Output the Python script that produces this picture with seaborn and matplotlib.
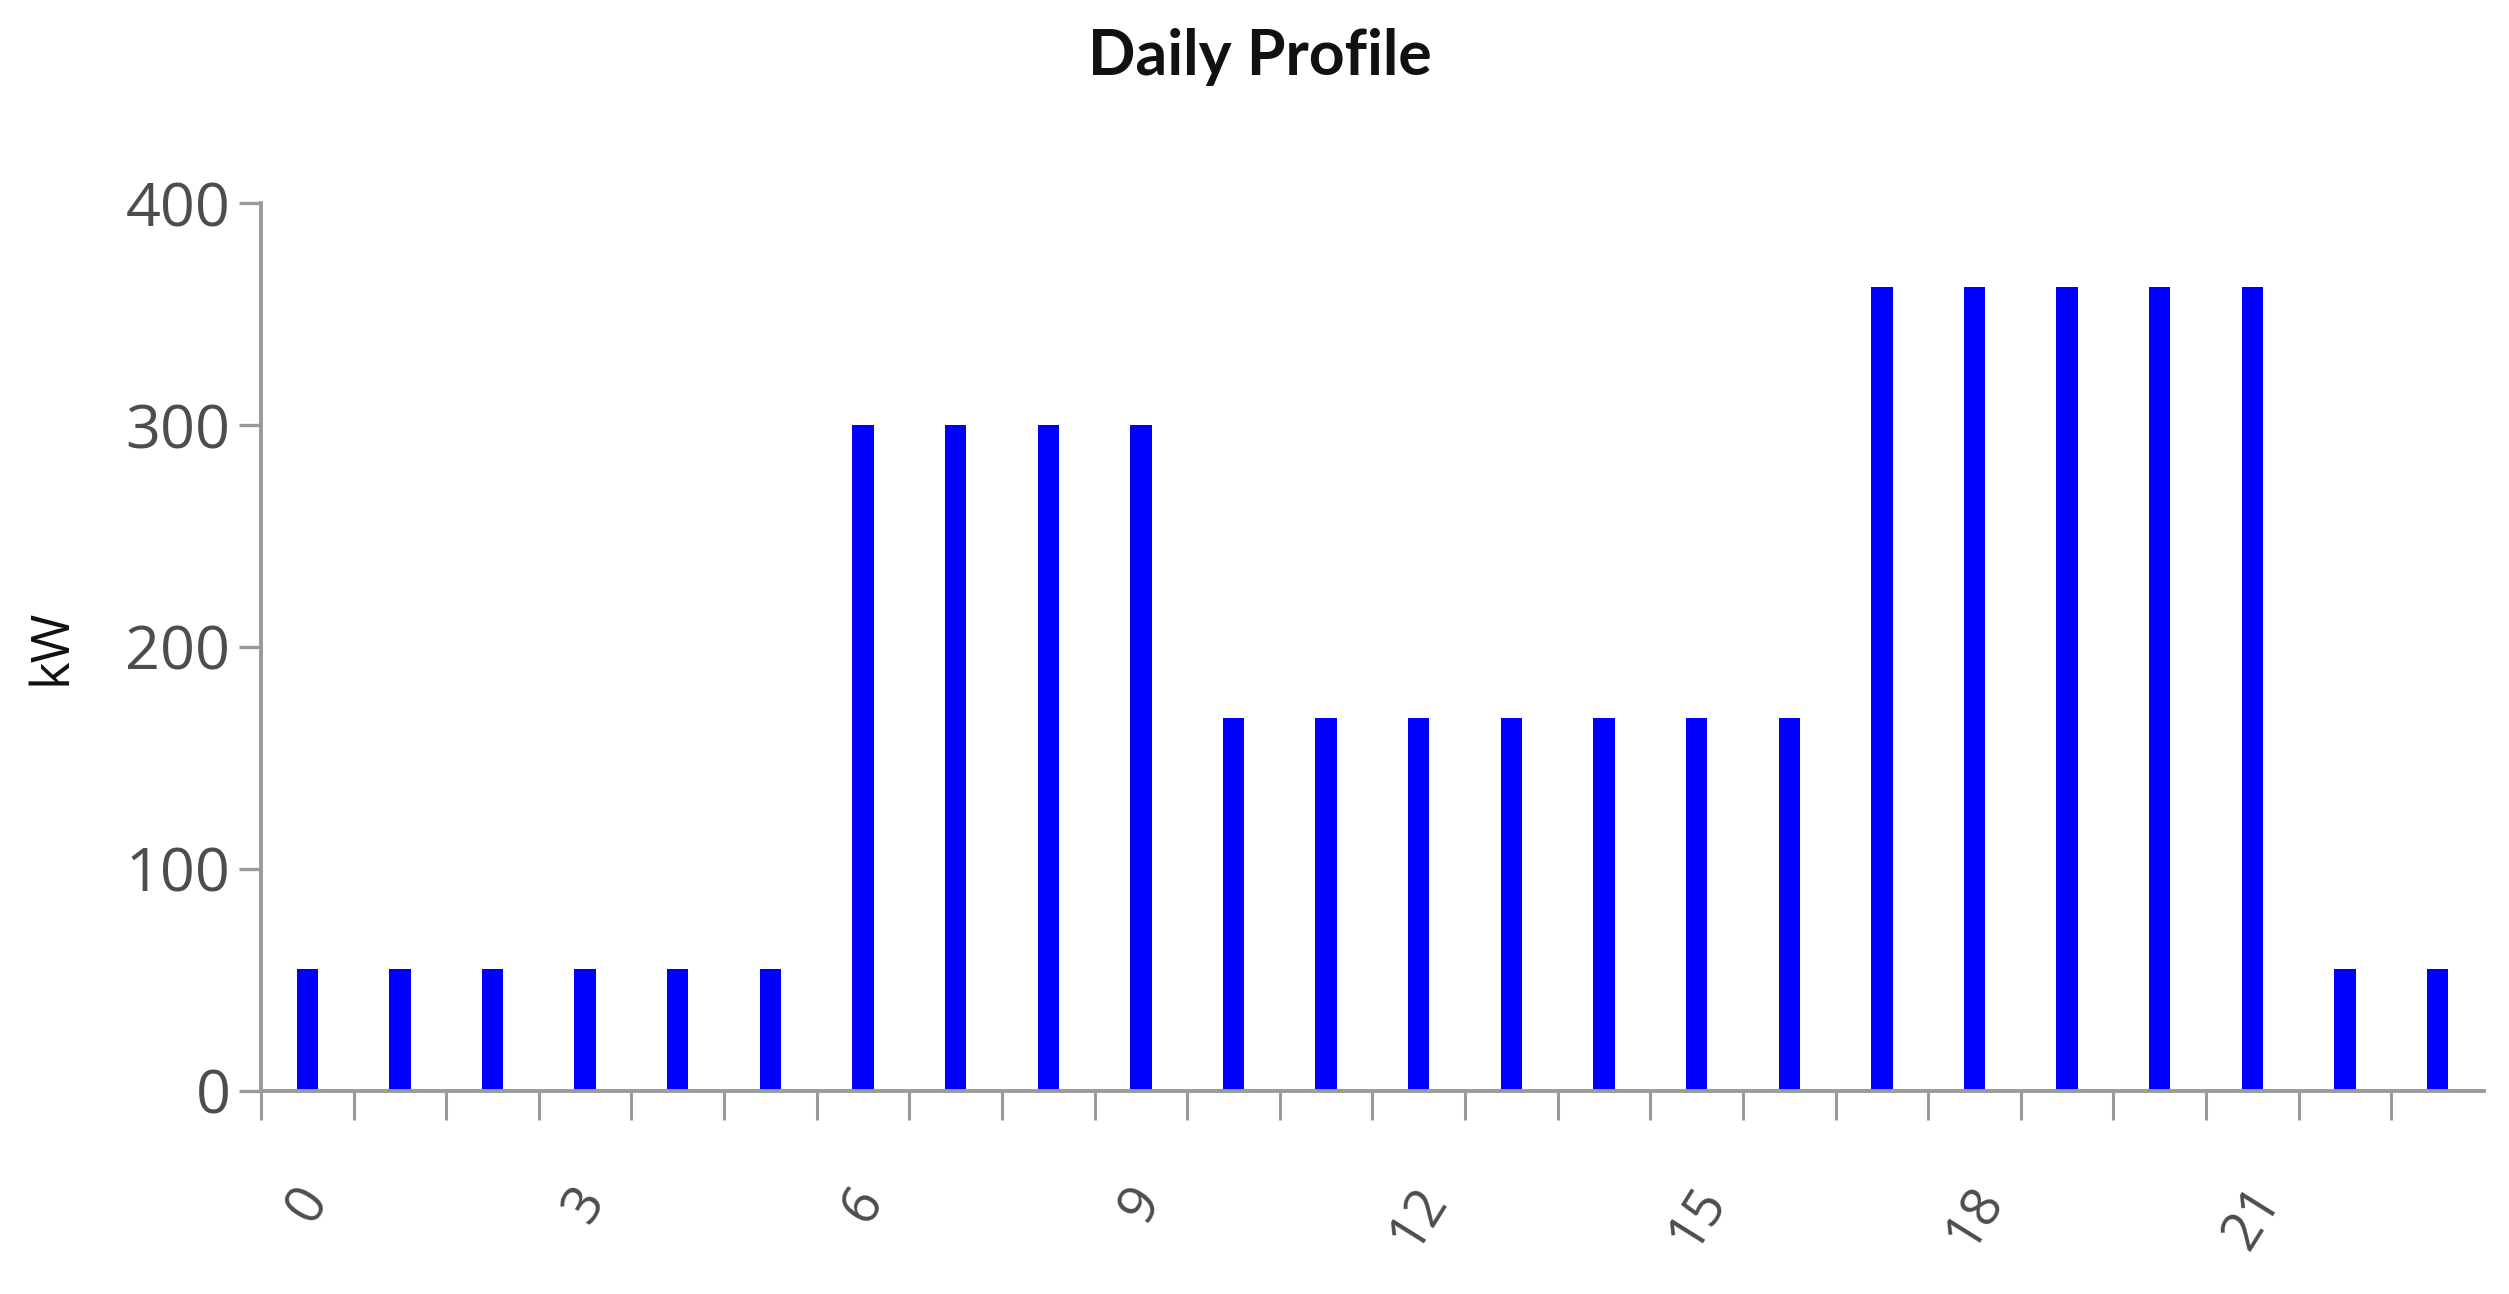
import matplotlib
matplotlib.use("Agg")
import matplotlib.pyplot as plt
import matplotlib.transforms as mtransforms
import seaborn as sns
import pandas as pd
from matplotlib.ticker import FixedLocator

hours = list(range(24))
kw = [55, 55, 55, 55, 55, 55,
      300, 300, 300, 300,
      168, 168, 168, 168, 168, 168, 168,
      362, 362, 362, 362, 362,
      55, 55]
label_hours = [0, 3, 6, 9, 12, 15, 18, 21]
yticks = [0, 100, 200, 300, 400]

sns.set_theme(style="white")
plt.rcParams['font.family'] = ['Open Sans', 'DejaVu Sans']

df = pd.DataFrame({"hour": hours, "kW": kw})

fig = plt.figure(figsize=(25.09, 12.94), dpi=100)
ax = fig.add_axes([0.104, 0.157, 0.886, 0.686])

sns.barplot(data=df, x="hour", y="kW", color="#0000FF", width=0.23,
            saturation=1, ax=ax, linewidth=0)

ax.set_xlim(-0.5, 23.5)
ax.set_ylim(0, 400)
ax.set_yticks(yticks)
ax.set_yticklabels([str(v) for v in yticks], fontsize=44, color="#4d4d4d")

ax.xaxis.set_major_locator(FixedLocator(label_hours))
ax.set_xticklabels([str(h) for h in label_hours], fontsize=39, color="#4d4d4d",
                   rotation=58, ha="center", va="top")
offset = mtransforms.ScaledTranslation(-0.18, 0, fig.dpi_scale_trans)
for lbl in ax.get_xticklabels():
    lbl.set_transform(lbl.get_transform() + offset)
ax.xaxis.set_minor_locator(FixedLocator([h - 0.5 for h in hours]))
ax.tick_params(axis="x", which="major", length=0, pad=62)
ax.tick_params(axis="x", which="minor", length=21, width=2.2, color="#999999", bottom=True)
ax.tick_params(axis="y", which="major", length=16, width=2.4, color="#999999", left=True, pad=6)

for s in ["top", "right"]:
    ax.spines[s].set_visible(False)
for s in ["left", "bottom"]:
    ax.spines[s].set_color("#9a9a9a")
    ax.spines[s].set_linewidth(2.8)

ax.set_xlabel("")
ax.set_ylabel("kW", fontsize=38, color="#111111", labelpad=34)

fig.text(0.502, 0.942, "Daily Profile", ha="center", va="baseline", fontsize=45,
         fontweight="bold", family=["Lato", "DejaVu Sans"], color="#111111")

fig.savefig("out.png", dpi=100, facecolor="white")
